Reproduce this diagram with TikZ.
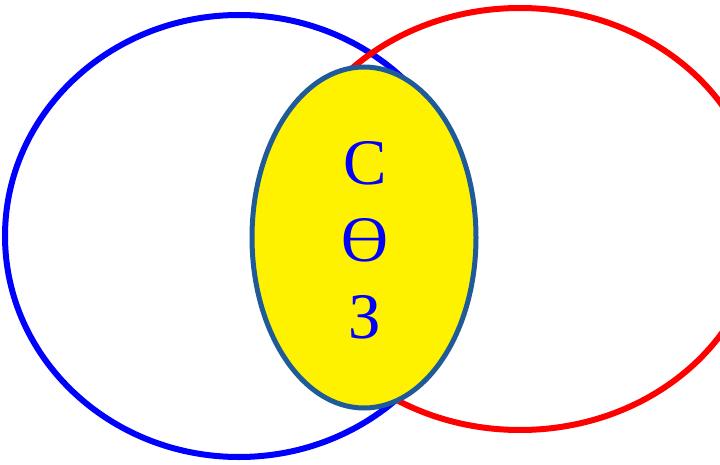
\documentclass[tikz,border=0pt]{standalone}
\usepackage{fontspec}
\setmainfont{Liberation Serif}
\newfontfamily\letterfont{Liberation Serif}
\usetikzlibrary{shapes.geometric}
\definecolor{overlapedge}{RGB}{31,91,153}
\tikzset{
  setring/.style={ellipse,draw,line width=6pt,inner sep=0pt},
}
\begin{document}
\begin{tikzpicture}[x=1pt,y=-1pt]
  \useasboundingbox (0,0) rectangle (720,465);
  \clip (0,0) rectangle (720,465);
  \node[setring,draw=blue,minimum width=468pt,minimum height=442pt] (left) at (239,236) {};
  \node[setring,draw=red,minimum width=480pt,minimum height=422pt] (right) at (520,219) {};
  \node[ellipse,draw=overlapedge,fill=yellow,line width=5pt,minimum width=224pt,minimum height=341pt,inner sep=0pt] (common) at (364,237.5) {};
  \node[font=\letterfont\fontsize{65}{77}\selectfont,text=blue,align=center] (letters) at (365,240) {С\\Ө\\З};
\end{tikzpicture}
\end{document}
